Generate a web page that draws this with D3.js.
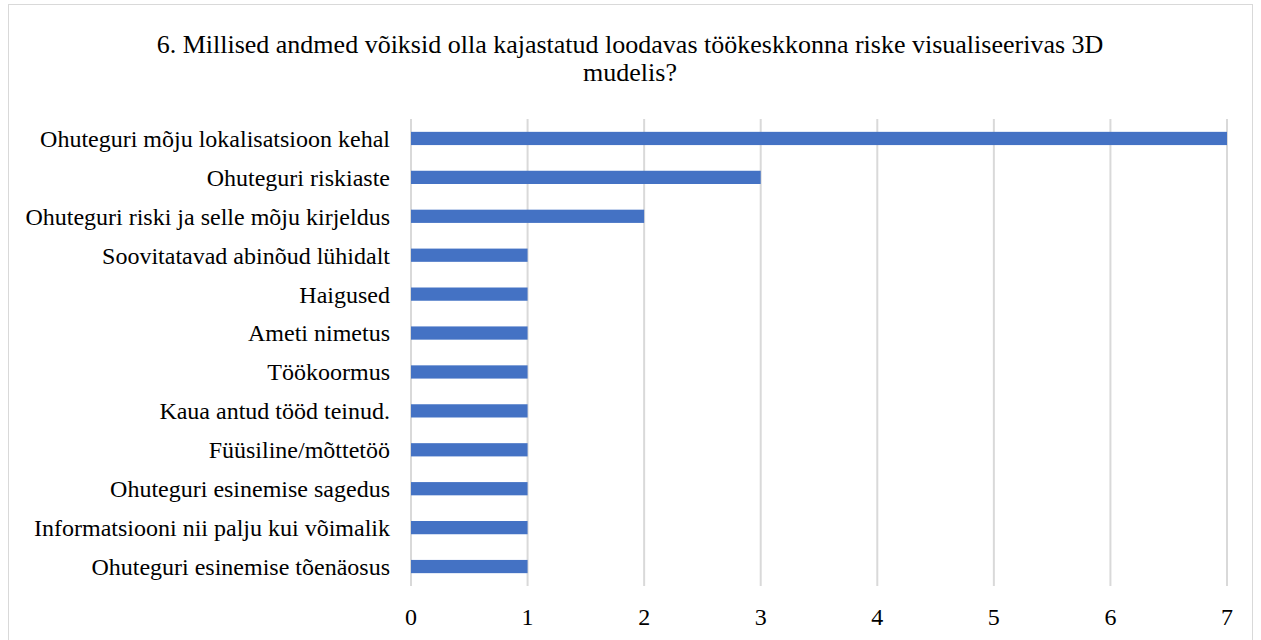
<!DOCTYPE html>
<html>
<head>
<meta charset="utf-8">
<script src="https://cdn.jsdelivr.net/npm/d3@7"></script>
<style>
  body { margin: 0; background: #fff; }
  text { font-family: "Liberation Serif", "Times New Roman", serif; fill: #000; }
</style>
</head>
<body>
<div id="chart"></div>
<script>
// categories top to bottom, with counts
var categories = [
  "Ohuteguri mõju lokalisatsioon kehal",
  "Ohuteguri riskiaste",
  "Ohuteguri riski ja selle mõju kirjeldus",
  "Soovitatavad abinõud lühidalt",
  "Haigused",
  "Ameti nimetus",
  "Töökoormus",
  "Kaua antud tööd teinud.",
  "Füüsiline/mõttetöö",
  "Ohuteguri esinemise sagedus",
  "Informatsiooni nii palju kui võimalik",
  "Ohuteguri esinemise tõenäosus"
];
var counts = [7, 3, 2, 1, 1, 1, 1, 1, 1, 1, 1, 1];
var ticks = [0, 1, 2, 3, 4, 5, 6, 7];
var titleLines = [
  "6. Millised andmed võiksid olla kajastatud loodavas töökeskkonna riske visualiseerivas 3D",
  "mudelis?"
];

var W = 1261, H = 640;
var margin = {left: 411, right: 34, top: 119, bottom: 54};

var svg = d3.select("#chart").append("svg")
  .attr("width", W).attr("height", H);

// outer chart border
svg.append("rect")
  .attr("x", 8.5).attr("y", 4.5)
  .attr("width", 1244).attr("height", 650)
  .attr("fill", "#fff").attr("stroke", "#d9d9d9").attr("stroke-width", 1);

var x = d3.scaleLinear().domain([0, 7]).range([margin.left, W - margin.right]);
var y = d3.scaleBand().domain(categories)
  .range([margin.top, H - margin.bottom]).paddingInner(0.66).paddingOuter(0.33);

// title
svg.append("text")
  .attr("text-anchor", "middle")
  .attr("x", 630).attr("y", 53)
  .style("font-size", "26px")
  .selectAll("tspan").data(titleLines).enter().append("tspan")
  .attr("x", 630).attr("dy", function(d, i) { return i ? 28 : 0; })
  .text(function(d) { return d; });

// gridlines
svg.append("g").selectAll("line").data(ticks).enter().append("line")
  .attr("x1", function(d) { return x(d); }).attr("x2", function(d) { return x(d); })
  .attr("y1", margin.top).attr("y2", H - margin.bottom)
  .attr("stroke", "#d9d9d9").attr("stroke-width", 2);

// bars
svg.append("g").selectAll("rect").data(categories).enter().append("rect")
  .attr("x", x(0))
  .attr("y", function(d) { return y(d); })
  .attr("width", function(d, i) { return x(counts[i]) - x(0); })
  .attr("height", y.bandwidth())
  .attr("fill", "#4472c4");

// category labels
svg.append("g").selectAll("text").data(categories).enter().append("text")
  .attr("x", 390)
  .attr("y", function(d) { return y(d) + y.bandwidth() / 2; })
  .attr("dy", "0.35em")
  .attr("text-anchor", "end")
  .style("font-size", "24px")
  .text(function(d) { return d; });

// x tick labels
svg.append("g").selectAll("text").data(ticks).enter().append("text")
  .attr("x", function(d) { return x(d); })
  .attr("y", 617)
  .attr("dy", "0.35em")
  .attr("text-anchor", "middle")
  .style("font-size", "24px")
  .text(function(d) { return d; });
</script>
</body>
</html>
